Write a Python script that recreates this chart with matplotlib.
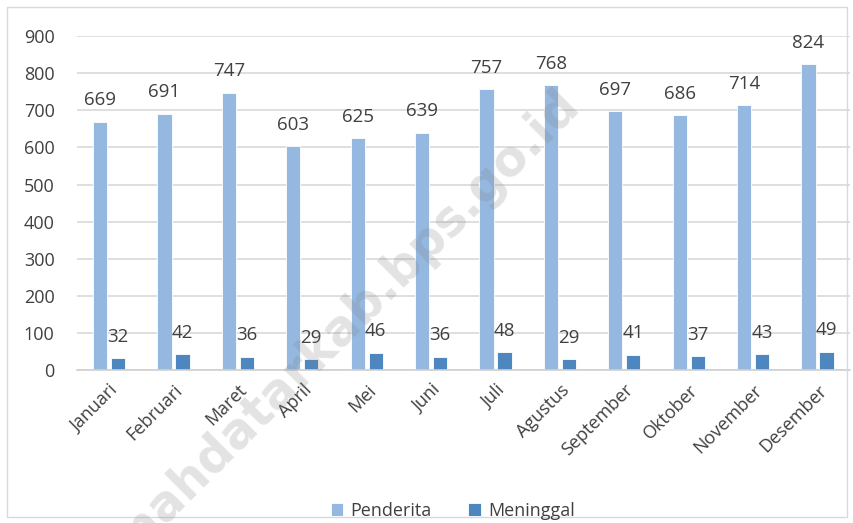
import matplotlib.pyplot as plt
import numpy as np
from matplotlib.patches import Rectangle

months = ["Januari", "Februari", "Maret", "April", "Mei", "Juni", "Juli",
          "Agustus", "September", "Oktober", "November", "Desember"]
penderita = [669, 691, 747, 603, 625, 639, 757, 768, 697, 686, 714, 824]
meninggal = [32, 42, 36, 29, 46, 36, 48, 29, 41, 37, 43, 49]

light = "#95B8E0"
dark = "#4E87C0"
text_col = "#404040"

plt.rcParams["font.family"] = ["Open Sans", "DejaVu Sans"]

fig = plt.figure(figsize=(8.54, 5.23), dpi=100)
ax = fig.add_axes([0.090, 0.2925, 0.905, 0.6385])

x = np.arange(len(months))
w = 0.22
off = 0.14
b1 = ax.bar(x - off, penderita, w, color=light, edgecolor="white", linewidth=0.6,
            label="Penderita", zorder=2)
b2 = ax.bar(x + off, meninggal, w, color=dark, edgecolor="white", linewidth=0.6,
            label="Meninggal", zorder=2)
for bars in (b1, b2):
    ax.bar_label(bars, padding=9, fontsize=13.5, color=text_col)

ax.set_xlim(-0.5, len(months) - 0.5)
ax.set_ylim(0, 900)
ax.set_yticks(range(0, 901, 100))
ax.yaxis.grid(True, color="#D9D9D9", linewidth=1.2, zorder=0)
ax.set_axisbelow(True)
for s in ("top", "right", "left"):
    ax.spines[s].set_visible(False)
ax.spines["bottom"].set_color("#D0D0D0")
ax.spines["bottom"].set_linewidth(1.2)
ax.tick_params(axis="both", length=0, labelsize=13, colors=text_col)
ax.tick_params(axis="y", pad=16)
ax.tick_params(axis="x", pad=8)
ax.set_xticks(x)
ax.set_xticklabels(months, rotation=45, ha="right", rotation_mode="anchor")

fig.legend(handles=[b1, b2], loc="center", bbox_to_anchor=(0.53, 0.023),
           ncol=2, frameon=False, fontsize=13, handlelength=0.7,
           handleheight=0.7, columnspacing=2.0, handletextpad=0.4,
           labelcolor=text_col)

fig.patches.append(Rectangle((0.008, 0.012), 0.984, 0.975, transform=fig.transFigure,
                             fill=False, edgecolor="#D9D9D9", linewidth=1))

# watermark, cut off at the bottom edge as in the reference
fig.text(0.388, 0.35, "tanahdatarkab.bps.go.id", rotation=45, fontsize=35,
         fontweight="bold", color="gray", alpha=0.22, ha="center", va="center",
         family="DejaVu Sans")

fig.savefig("out.png", dpi=100)
